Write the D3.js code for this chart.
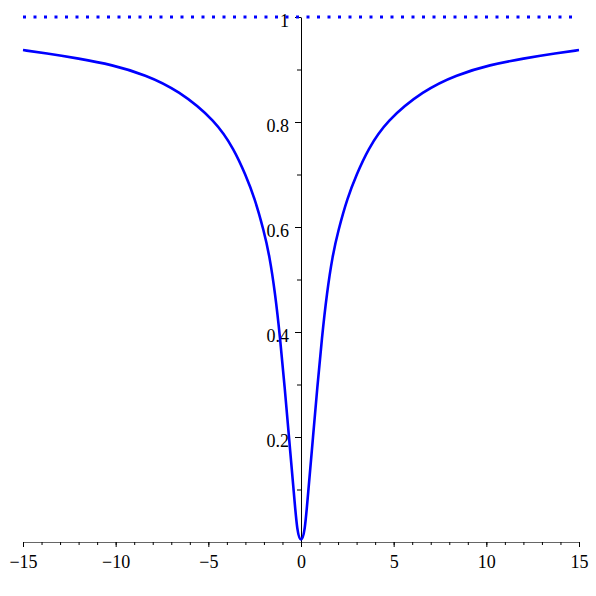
<!DOCTYPE html>
<meta charset="utf-8">
<style>
body { margin: 0; background: #fff; }
.axis text { font-family: "Liberation Serif", serif; font-size: 18px; fill: #000; }
.axis path, .axis line { stroke: #000; }
.xaxis path { stroke: #666; }
</style>
<svg width="596" height="596"></svg>
<script src="https://d3js.org/d3.v7.min.js"></script>
<script>

// values (curve is symmetric about x = 0)
var xs = [-15, -13.8, -12, -10.2, -8.4, -6.6, -4.6, -3.6, -3, -2.5, -2, -1.7, -1.4, -1.13, -0.88, -0.65, -0.4, -0.2, 0,
          0.2, 0.4, 0.65, 0.88, 1.13, 1.4, 1.7, 2, 2.5, 3, 3.6, 4.6, 6.6, 8.4, 10.2, 12, 13.8, 15];
var ys = [0.937, 0.931, 0.921, 0.909, 0.89, 0.86, 0.802, 0.747, 0.70, 0.655, 0.592, 0.545, 0.475, 0.39, 0.295, 0.20, 0.10, 0.015, 0,
          0.015, 0.10, 0.20, 0.295, 0.39, 0.475, 0.545, 0.592, 0.655, 0.70, 0.747, 0.802, 0.86, 0.89, 0.909, 0.921, 0.931, 0.937];
var asymptote = 1;

var xMajor = [-15, -10, -5, 0, 5, 10, 15];
var xMinor = d3.range(-15, 16, 1);
var yMajor = [0.2, 0.4, 0.6, 0.8, 1];
var yMinor = [0.1, 0.2, 0.3, 0.4, 0.5, 0.6, 0.7, 0.8, 0.9, 1];

var svg = d3.select("svg");

var x = d3.scaleLinear().domain([-15, 15]).range([23, 579]);
var y = d3.scaleLinear().domain([0, 1]).range([542, 17]);

var fmt = function(d) { return d < 0 ? "\u2212" + Math.abs(d) : String(d); };

// x axis: minor then major ticks
svg.append("g")
    .attr("class", "axis xaxis")
    .attr("transform", "translate(0," + y(0) + ")")
    .call(d3.axisBottom(x).tickValues(xMinor).tickSize(3).tickSizeOuter(0).tickFormat(""));
svg.append("g")
    .attr("class", "axis xaxis")
    .attr("transform", "translate(0," + y(0) + ")")
    .call(d3.axisBottom(x).tickValues(xMajor).tickSize(5).tickSizeOuter(0).tickPadding(8).tickFormat(fmt))
    .call(function(g) { g.select(".domain").remove(); });

// y axis
svg.append("g")
    .attr("class", "axis")
    .attr("transform", "translate(" + x(0) + ",0)")
    .call(d3.axisLeft(y).tickValues(yMinor).tickSize(4).tickSizeOuter(0).tickFormat(""));
svg.append("g")
    .attr("class", "axis")
    .attr("transform", "translate(" + x(0) + ",0)")
    .call(d3.axisLeft(y).tickValues(yMajor).tickSize(6).tickSizeOuter(0).tickPadding(6).tickFormat(function(d) { return String(d); }))
    .call(function(g) { g.select(".domain").remove(); })
    .selectAll("text").attr("dy", "0.5em");

// dotted asymptote
svg.append("line")
    .attr("x1", x(-15)).attr("x2", x(15))
    .attr("y1", y(asymptote)).attr("y2", y(asymptote))
    .attr("stroke", "#0000ff")
    .attr("stroke-width", 3)
    .attr("stroke-dasharray", "3,7.5");

// curve
var pts = xs.map(function(d, i) { return [d, ys[i]]; });
var line = d3.line()
    .x(function(d) { return x(d[0]); })
    .y(function(d) { return y(d[1]); })
    .curve(d3.curveBasis);

svg.append("path")
    .datum(pts)
    .attr("d", line)
    .attr("fill", "none")
    .attr("stroke", "#0000ff")
    .attr("stroke-width", 2.6)
    .attr("stroke-linejoin", "round");

</script>
